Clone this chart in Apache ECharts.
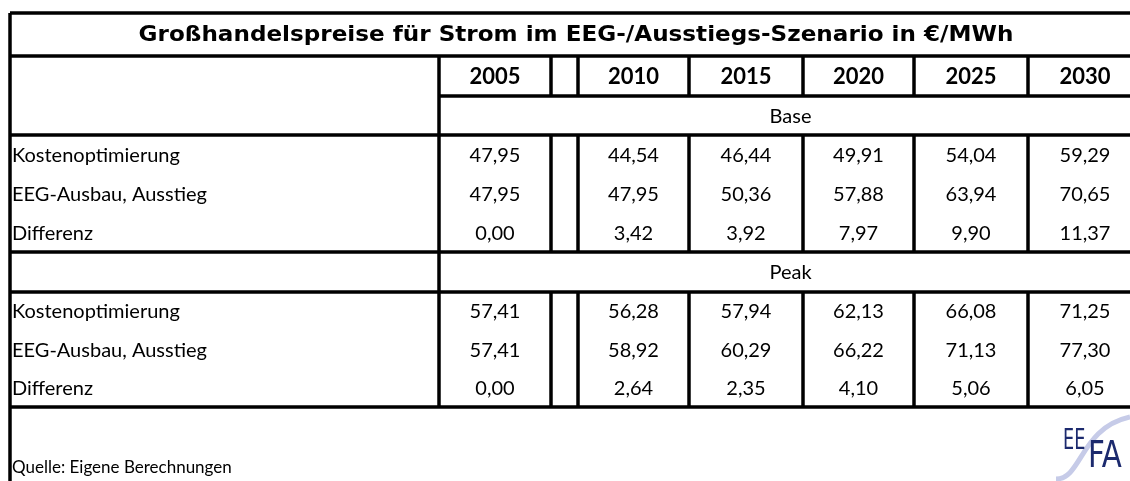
<!DOCTYPE html>
<html>
<head>
<meta charset="utf-8">
<script src="https://cdn.jsdelivr.net/npm/echarts@6/dist/echarts.min.js"></script>
<style>
html,body{margin:0;padding:0;background:#fff}
#main{width:1130px;height:481px}
</style>
</head>
<body>
<div id="main"></div>
<script>
var titleText = 'Großhandelspreise für Strom im EEG-/Ausstiegs-Szenario in €/MWh';
var years = ['2005', '2010', '2015', '2020', '2025', '2030'];
var blockNames = ['Base', 'Peak'];
var rowLabels = ['Kostenoptimierung', 'EEG-Ausbau, Ausstieg', 'Differenz'];
var baseKosten = [47.95, 44.54, 46.44, 49.91, 54.04, 59.29];
var baseEEG = [47.95, 47.95, 50.36, 57.88, 63.94, 70.65];
var baseDiff = [0.00, 3.42, 3.92, 7.97, 9.90, 11.37];
var peakKosten = [57.41, 56.28, 57.94, 62.13, 66.08, 71.25];
var peakEEG = [57.41, 58.92, 60.29, 66.22, 71.13, 77.30];
var peakDiff = [0.00, 2.64, 2.35, 4.10, 5.06, 6.05];
var sourceText = 'Quelle: Eigene Berechnungen';

// table layout (pixels of the 1130x481 canvas)
var colEdges = [10, 439, 551, 578, 689, 803, 914, 1028, 1142];
var rowEdges = [13, 56, 96, 135, 174, 213, 252, 292, 330, 369, 407];
var yearCols = [1, 3, 4, 5, 6, 7];   // col 2 is the empty spacer
var FONT = 'Lato, "Open Sans", sans-serif';
var NARROW = '"Liberation Sans Narrow", "DejaVu Sans Condensed", sans-serif';

var styles = {
    title: { size: 21, weight: 'bold', align: 'center', family: '"DejaVu Sans", sans-serif', sx: 1.1 },
    year:  { size: 22, weight: 'bold', align: 'center' },
    block: { size: 20, weight: 'normal', align: 'center' },
    label: { size: 20, weight: 'normal', align: 'left' },
    num:   { size: 20, weight: 'normal', align: 'center' }
};

function fmt(v) {
    return v.toFixed(2).replace('.', ',');
}

// build the cell list from the data arrays
var cells = [];
cells.push({ c0: 0, c1: 8, r: 0, text: titleText, kind: 'title' });
years.forEach(function (y, i) {
    cells.push({ c0: yearCols[i], c1: yearCols[i] + 1, r: 1, text: y, kind: 'year' });
});
var blocks = [[baseKosten, baseEEG, baseDiff], [peakKosten, peakEEG, peakDiff]];
blocks.forEach(function (rows, b) {
    var r0 = 2 + b * 4;
    cells.push({ c0: 1, c1: 8, r: r0, text: blockNames[b], kind: 'block' });
    rows.forEach(function (vals, i) {
        cells.push({ c0: 0, c1: 1, r: r0 + 1 + i, text: rowLabels[i], kind: 'label' });
        vals.forEach(function (v, j) {
            cells.push({ c0: yearCols[j], c1: yearCols[j] + 1, r: r0 + 1 + i, text: fmt(v), kind: 'num' });
        });
    });
});

// rule lines
var rules = [];
function hline(y, x0, x1) { rules.push([x0, y, x1, y]); }
function vline(x, y0, y1) { rules.push([x, y0, x, y1]); }
hline(rowEdges[0], colEdges[0], 1130);
hline(rowEdges[1], colEdges[0], 1130);
hline(rowEdges[2], colEdges[1], 1130);
hline(rowEdges[3], colEdges[0], 1130);
hline(rowEdges[6], colEdges[0], 1130);
hline(rowEdges[7], colEdges[0], 1130);
hline(rowEdges[10], colEdges[0], 1130);
vline(colEdges[0], rowEdges[0], 481);
vline(colEdges[1], rowEdges[1], rowEdges[10]);
for (var c = 2; c <= 7; c++) {
    vline(colEdges[c], rowEdges[1], rowEdges[2]);
    vline(colEdges[c], rowEdges[3], rowEdges[6]);
    vline(colEdges[c], rowEdges[7], rowEdges[10]);
}

var chart = echarts.init(document.getElementById('main'));

var graphics = rules.map(function (l) {
    return {
        type: 'line',
        shape: { x1: l[0], y1: l[1], x2: l[2], y2: l[3] },
        style: { stroke: '#000', lineWidth: 3.5 },
        z: 10
    };
});
graphics.push({
    type: 'text', x: 12, y: 468,
    style: { text: sourceText, font: '17px ' + FONT, fill: '#000', verticalAlign: 'middle' }
});
// EEFA logo
graphics.push({
    type: 'bezierCurve',
    shape: { x1: 1056, y1: 479, cpx1: 1082, cpy1: 479, cpx2: 1080, cpy2: 428, x2: 1130, y2: 417 },
    style: { stroke: '#c6cbe8', lineWidth: 5, fill: null }
});
graphics.push({
    type: 'text', x: 1063, y: 442, scaleX: 0.7,
    style: { text: 'EE', font: '28px ' + NARROW, fill: '#1c2a6e', verticalAlign: 'middle' }
});
graphics.push({
    type: 'text', x: 1088, y: 457, scaleX: 0.88,
    style: { text: 'FA', font: '37px ' + NARROW, fill: '#1c2a6e', verticalAlign: 'middle' }
});

var option = {
    animation: false,
    grid: { left: 0, right: 0, top: 0, bottom: 0 },
    xAxis: { type: 'value', min: 0, max: 1130, show: false },
    yAxis: { type: 'value', min: 0, max: 481, inverse: true, show: false },
    graphic: graphics,
    series: [{
        type: 'custom',
        clip: false,
        data: cells.map(function (d) { return [colEdges[d.c0], rowEdges[d.r]]; }),
        renderItem: function (params, api) {
            var d = cells[params.dataIndex];
            var st = styles[d.kind];
            var p0 = api.coord([colEdges[d.c0], rowEdges[d.r]]);
            var p1 = api.coord([colEdges[d.c1], rowEdges[d.r + 1]]);
            var x = st.align === 'left' ? p0[0] + 2 : (p0[0] + p1[0]) / 2;
            return {
                type: 'text',
                x: x,
                y: (p0[1] + p1[1]) / 2 + 1,
                scaleX: st.sx || 1,
                style: {
                    x: 0,
                    y: 0,
                    text: d.text,
                    font: st.weight + ' ' + st.size + 'px ' + (st.family || FONT),
                    fill: '#000',
                    align: st.align,
                    verticalAlign: 'middle'
                }
            };
        }
    }]
};
chart.setOption(option);
</script>
</body>
</html>
